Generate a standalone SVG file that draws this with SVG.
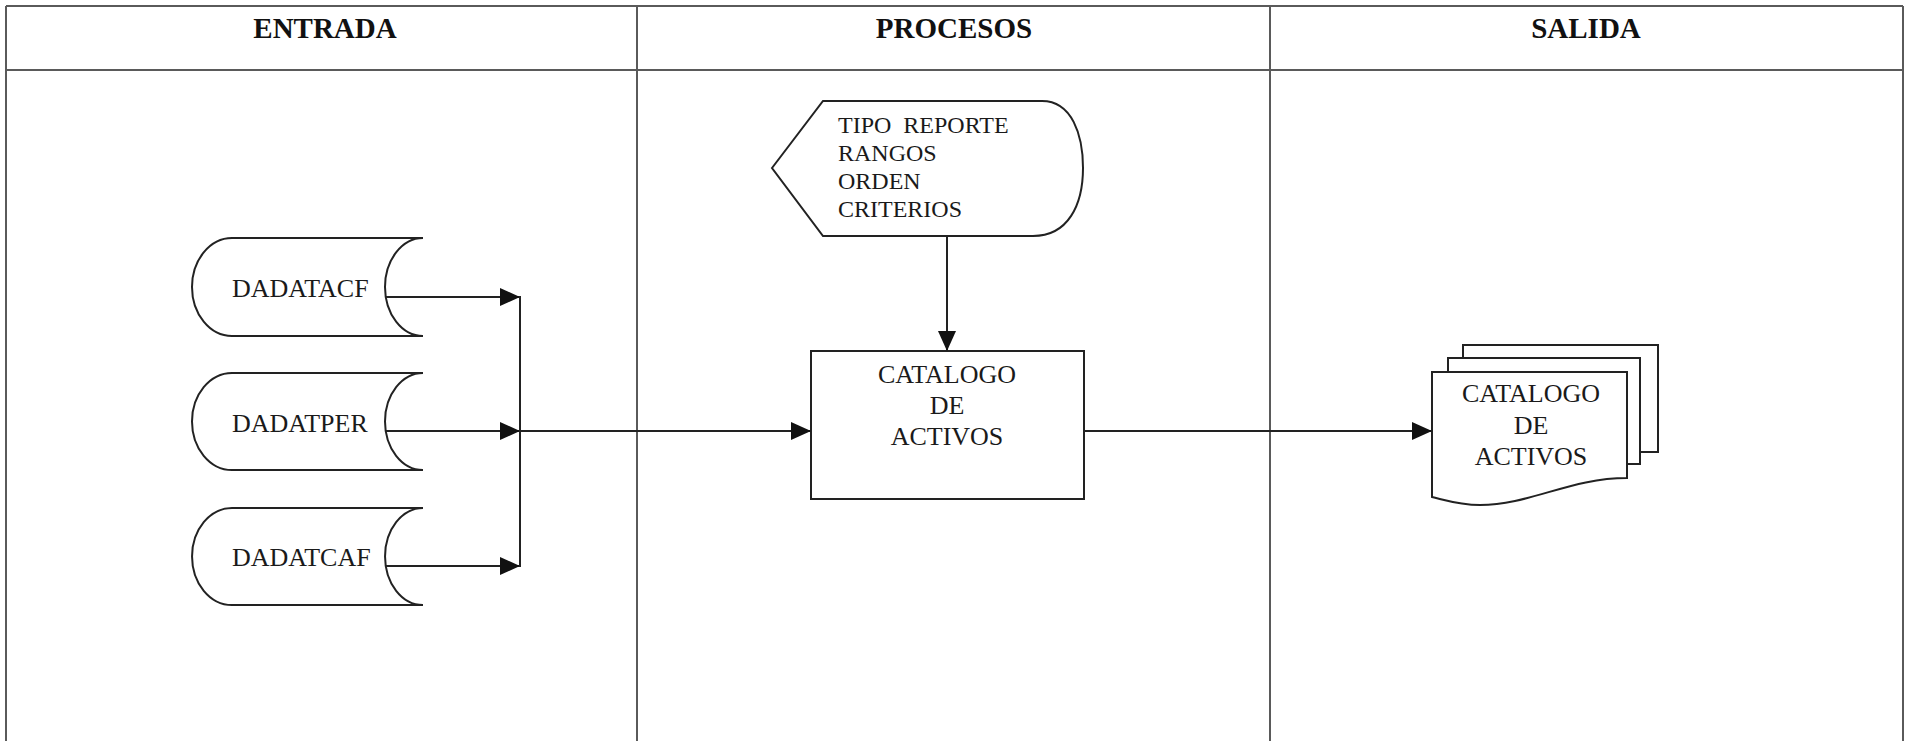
<svg xmlns="http://www.w3.org/2000/svg" width="1905" height="741" viewBox="0 0 1905 741">
<style>
.frame{stroke:#5a5a5a;stroke-width:2;fill:none}
.hdr{font-family:"Liberation Serif",serif;font-weight:bold;font-size:29px;fill:#111;text-anchor:middle}
.shape{fill:#fff;stroke:#222;stroke-width:2}
.lbl{font-family:"Liberation Serif",serif;font-size:26px;fill:#1a1a1a}
.disp{font-family:"Liberation Serif",serif;font-size:24px;fill:#1a1a1a}
.mid{text-anchor:middle}
.conn{stroke:#222;stroke-width:2;fill:none}
</style>
<defs>
<marker id="ah" markerUnits="userSpaceOnUse" markerWidth="20" markerHeight="18" refX="20" refY="9" orient="auto">
<path d="M0,0 L20,9 L0,18 z" fill="#111"/>
</marker>
</defs>
<rect width="1905" height="741" fill="#fff"/>
<g id="frame">
<line class="frame" x1="6" y1="6" x2="1903" y2="6"/>
<line class="frame" x1="6" y1="70" x2="1903" y2="70"/>
<line class="frame" x1="6" y1="6" x2="6" y2="741"/>
<line class="frame" x1="637" y1="6" x2="637" y2="741"/>
<line class="frame" x1="1270" y1="6" x2="1270" y2="741"/>
<line class="frame" x1="1903" y1="6" x2="1903" y2="741"/>
<text class="hdr" x="325" y="38">ENTRADA</text>
<text class="hdr" x="954" y="38">PROCESOS</text>
<text class="hdr" x="1586" y="38">SALIDA</text>
</g>
<g id="dadatacf">
<path class="shape" d="M423,238 L232,238 A40,49 0 0 0 232,336 L423,336 A38,49 0 0 1 423,238 Z"/>
<text class="lbl" x="232" y="297">DADATACF</text>
</g>
<g id="dadatper">
<path class="shape" d="M423,373 L232,373 A40,48.5 0 0 0 232,470 L423,470 A38,48.5 0 0 1 423,373 Z"/>
<text class="lbl" x="232" y="432">DADATPER</text>
</g>
<g id="dadatcaf">
<path class="shape" d="M423,508 L232,508 A40,48.5 0 0 0 232,605 L423,605 A38,48.5 0 0 1 423,508 Z"/>
<text class="lbl" x="232" y="566">DADATCAF</text>
</g>
<g id="parametros">
<path class="shape" d="M772,168 L823,101 L1042,101 C1072,101 1083,135 1083,168 C1083,205 1068,236 1033,236 L823,236 Z"/>
<text class="disp" x="838" y="133" word-spacing="6">TIPO REPORTE</text>
<text class="disp" x="838" y="161">RANGOS</text>
<text class="disp" x="838" y="189">ORDEN</text>
<text class="disp" x="838" y="217">CRITERIOS</text>
</g>
<g id="catalogo-proceso">
<rect class="shape" x="811" y="351" width="273" height="148"/>
<text class="lbl mid" x="947" y="383">CATALOGO</text>
<text class="lbl mid" x="947" y="414">DE</text>
<text class="lbl mid" x="947" y="445">ACTIVOS</text>
</g>
<g id="catalogo-reporte">
<path class="shape" d="M1463,345 L1658,345 L1658,452 L1463,452 Z"/>
<path class="shape" d="M1448,358 L1640,358 L1640,464 L1448,464 Z"/>
<path class="shape" d="M1432,372 L1627,372 L1627,478 C1570,478 1530,505 1480,505 C1460,505 1445,500 1432,497 Z"/>
<text class="lbl mid" x="1531" y="402">CATALOGO</text>
<text class="lbl mid" x="1531" y="434">DE</text>
<text class="lbl mid" x="1531" y="465">ACTIVOS</text>
</g>
<g id="connectors">
<line class="conn" x1="386" y1="297" x2="520" y2="297" marker-end="url(#ah)"/>
<line class="conn" x1="386" y1="431" x2="520" y2="431" marker-end="url(#ah)"/>
<line class="conn" x1="386" y1="566" x2="520" y2="566" marker-end="url(#ah)"/>
<line class="conn" x1="520" y1="296" x2="520" y2="567"/>
<line class="conn" x1="520" y1="431" x2="811" y2="431" marker-end="url(#ah)"/>
<line class="conn" x1="947" y1="236" x2="947" y2="351" marker-end="url(#ah)"/>
<line class="conn" x1="1084" y1="431" x2="1432" y2="431" marker-end="url(#ah)"/>
</g>
</svg>
